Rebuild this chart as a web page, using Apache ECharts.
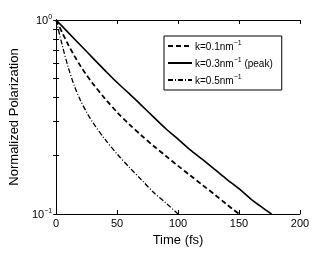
<!DOCTYPE html>
<html>
<head>
<meta charset="utf-8">
<script src="https://cdn.jsdelivr.net/npm/echarts@6/dist/echarts.min.js"></script>
<style>
html,body{margin:0;padding:0;background:#fff;}
#chart{width:332px;height:275px;}
</style>
</head>
<body>
<div id="chart"></div>
<script>
// Data
var timeK01 = [0, 5, 10, 15, 20, 25, 30, 40, 50, 60, 70, 80, 90, 100, 110, 120, 130, 140, 150];
var polK01  = [1, 0.861, 0.745, 0.653, 0.579, 0.520, 0.471, 0.394, 0.335, 0.290, 0.254, 0.224, 0.199, 0.177, 0.158, 0.141, 0.126, 0.112, 0.1];

var timeK03 = [0, 10, 20, 30, 40, 50, 60, 70, 80, 90, 100, 110, 120, 130, 140, 150, 160, 170, 176.6];
var polK03  = [1, 0.861, 0.741, 0.638, 0.550, 0.476, 0.417, 0.363, 0.316, 0.275, 0.243, 0.214, 0.191, 0.170, 0.151, 0.135, 0.119, 0.107, 0.1];

var timeK05 = [0, 5, 10, 15, 20, 25, 30, 40, 50, 60, 70, 80, 90, 100];
var polK05  = [1, 0.741, 0.569, 0.457, 0.385, 0.335, 0.297, 0.243, 0.204, 0.174, 0.150, 0.129, 0.114, 0.1];

var seriesNames = ['k=0.1nm', 'k=0.3nm', 'k=0.5nm'];
var xTicks = [0, 50, 100, 150, 200];
var yMinorTicks = [0.1, 0.2, 0.3, 0.4, 0.5, 0.6, 0.7, 0.8, 0.9, 1];

function pairs(t, v) { return t.map(function (x, i) { return [x, v[i]]; }); }

var font = 'Liberation Sans, Arial, Helvetica, sans-serif';
var chart = echarts.init(document.getElementById('chart'), null, {renderer: 'canvas'});

var yAxisBase = function (pos, showLabel) {
  return {
    type: 'log', logBase: 10, min: 0.1, max: 1, position: pos,
    axisLine: {show: true, lineStyle: {color: '#000', width: 1}},
    axisTick: {show: true, inside: true, length: 3, customValues: yMinorTicks, lineStyle: {color: '#000'}},
    minorTick: {show: false},
    splitLine: {show: false},
    axisLabel: {
      show: showLabel, margin: 4, fontFamily: font, color: '#000',
      formatter: function (v) {
        var e = Math.round(Math.log(v) / Math.LN10);
        return '{b|10}{s|' + (e < 0 ? '\u2212' + (-e) : e) + '}';
      },
      rich: {
        b: {fontSize: 11, fontFamily: font, color: '#000', verticalAlign: 'bottom'},
        s: {fontSize: 7, fontFamily: font, color: '#000', verticalAlign: 'top', padding: [0, 0, 6, 0]}
      }
    }
  };
};

var xAxisBase = function (pos, showLabel) {
  return {
    type: 'value', min: 0, max: 200, interval: 50, position: pos,
    axisLine: {show: true, onZero: false, lineStyle: {color: '#000', width: 1}},
    axisTick: {show: true, inside: true, length: 4, lineStyle: {color: '#000'}},
    splitLine: {show: false},
    axisLabel: {show: showLabel, margin: 4, fontSize: 11, fontFamily: font, color: '#000',
      customValues: xTicks}
  };
};

var xBottom = xAxisBase('bottom', true);
xBottom.name = 'Time (fs)';
xBottom.nameLocation = 'middle';
xBottom.nameGap = 18;
xBottom.nameTextStyle = {fontSize: 13, fontFamily: font, color: '#000'};
var xTop = xAxisBase('top', false);

var yLeft = yAxisBase('left', true);
yLeft.name = 'Normalized Polarization';
yLeft.nameLocation = 'middle';
yLeft.nameGap = 28;
yLeft.nameTextStyle = {fontSize: 13, fontFamily: font, color: '#000'};
var yRight = yAxisBase('right', false);

var option = {
  backgroundColor: '#fff',
  animation: false,
  grid: {left: 43, right: 32, top: 20, bottom: 61, containLabel: false},
  legend: {
    orient: 'vertical', left: 164, top: 36,
    padding: [4, 9, 4, 3], itemGap: 5,
    itemWidth: 24, itemHeight: 14,
    borderColor: '#000', borderWidth: 1, backgroundColor: '#fff',
    data: seriesNames,
    itemStyle: {color: 'rgba(0,0,0,0)', borderColor: 'rgba(0,0,0,0)', borderWidth: 0, opacity: 0},
    formatter: function (name) {
      return '{t|' + name + '}{s|\u22121}' + (name === 'k=0.3nm' ? '{t| (peak)}' : '');
    },
    textStyle: {
      fontFamily: font, fontSize: 10, color: '#000', padding: [0, 0, 0, -2],
      rich: {
        t: {fontSize: 10, fontFamily: font, color: '#000', verticalAlign: 'bottom'},
        s: {fontSize: 7, fontFamily: font, color: '#000', verticalAlign: 'top', padding: [0, 0, 5, 0]}
      }
    }
  },
  xAxis: [xBottom, xTop],
  yAxis: [yLeft, yRight],
  series: [
    {name: seriesNames[0], type: 'line', xAxisIndex: 0, yAxisIndex: 0, data: pairs(timeK01, polK01),
     showSymbol: false, symbol: 'none', smooth: 0.3,
     lineStyle: {color: '#000', width: 1.8, type: [5, 3]}, itemStyle: {color: '#000'}},
    {name: seriesNames[1], type: 'line', xAxisIndex: 0, yAxisIndex: 0, data: pairs(timeK03, polK03),
     showSymbol: false, symbol: 'none', smooth: 0.3,
     lineStyle: {color: '#000', width: 1.6, type: 'solid'}, itemStyle: {color: '#000'}},
    {name: seriesNames[2], type: 'line', xAxisIndex: 0, yAxisIndex: 0, data: pairs(timeK05, polK05),
     showSymbol: false, symbol: 'none', smooth: 0.3,
     lineStyle: {color: '#000', width: 1.3, type: [5, 2, 1, 2]}, itemStyle: {color: '#000'}}
  ]
};
chart.setOption(option);
</script>
</body>
</html>
